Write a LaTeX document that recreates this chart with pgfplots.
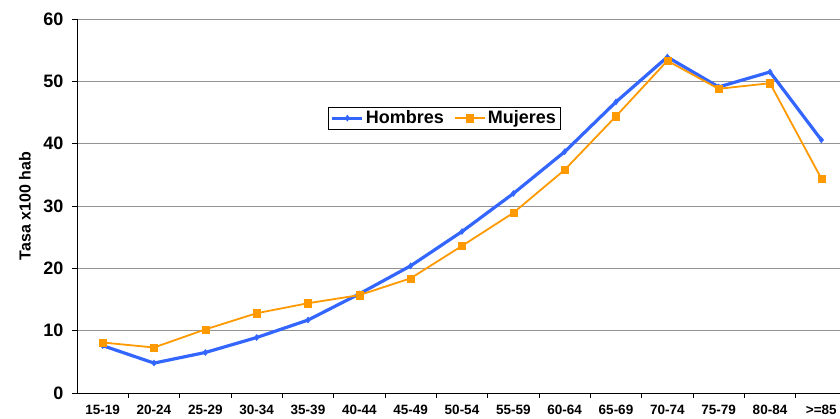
\documentclass[border=0pt]{standalone}
\usepackage{pgfplots}
\pgfplotsset{compat=1.18}
\usepackage{fontspec}
\setmainfont{Liberation Sans}
\definecolor{hblue}{RGB}{51,102,255}
\definecolor{morange}{RGB}{255,153,0}
\begin{document}
\begin{tikzpicture}
\begin{axis}[
  scale only axis,
  width=770pt, height=374pt,
  xmin=-0.5, xmax=14.5,
  ymin=0, ymax=60,
  ytick={0,10,...,60},
  xtick={0,...,14},
  xticklabels={15-19,20-24,25-29,30-34,35-39,40-44,45-49,50-54,55-59,60-64,65-69,70-74,75-79,80-84,>=85},
  minor xtick={0.5,1.5,...,13.5},
  axis lines*=left,
  axis line style={black, line width=0.8pt},
  tick align=outside,
  major tick length=5pt,
  minor tick length=5pt,
  major x tick style={draw=none},
  every tick/.style={black, line width=0.6pt},
  ymajorgrids,
  grid style={gray!85, line width=0.7pt},
  /pgf/number format/assume math mode=true,
  yticklabel style={font=\fontsize{18}{20}\selectfont\bfseries, xshift=-5pt},
  xticklabel style={font=\fontsize{13.5}{15}\selectfont\bfseries, yshift=-4pt},
  ylabel={Tasa x100 hab},
  every axis y label/.style={at={(axis description cs:-0.0675,0.5)}, rotate=90, anchor=center,
    font=\fontsize{16}{18}\selectfont\bfseries},
  legend columns=2,
  legend style={at={(rel axis cs:0.477,0.735)}, anchor=center,
    draw=black, line width=0.6pt, font=\fontsize{18}{20}\selectfont\bfseries,
    inner sep=2pt, /tikz/every even column/.style={column sep=8pt}},
  legend image code/.code={\draw[mark repeat=2,mark phase=2] plot coordinates {(0pt,0pt) (15pt,0pt) (30pt,0pt)};},
  legend cell align=left,
]
\addplot[hblue, line width=3.2pt, mark=diamond*, mark size=3pt, mark options={line width=0.5pt}] coordinates {
  (0,7.6) (1,4.8) (2,6.5) (3,8.9) (4,11.7) (5,15.9) (6,20.4) (7,25.9)
  (8,32.0) (9,38.7) (10,46.7) (11,53.9) (12,49.1) (13,51.5) (14,40.6)
};
\addlegendentry{Hombres}
\addplot[morange, line width=1.8pt, mark=square*, mark size=3.6pt, mark options={line width=0.3pt}] coordinates {
  (0,8.1) (1,7.3) (2,10.2) (3,12.8) (4,14.4) (5,15.7) (6,18.4) (7,23.6)
  (8,28.9) (9,35.8) (10,44.4) (11,53.3) (12,48.8) (13,49.7) (14,34.4)
};
\addlegendentry{Mujeres}
\end{axis}
\pgfresetboundingbox
\useasboundingbox (-77pt,-26pt) rectangle (763pt,393pt);
\end{tikzpicture}
\end{document}
